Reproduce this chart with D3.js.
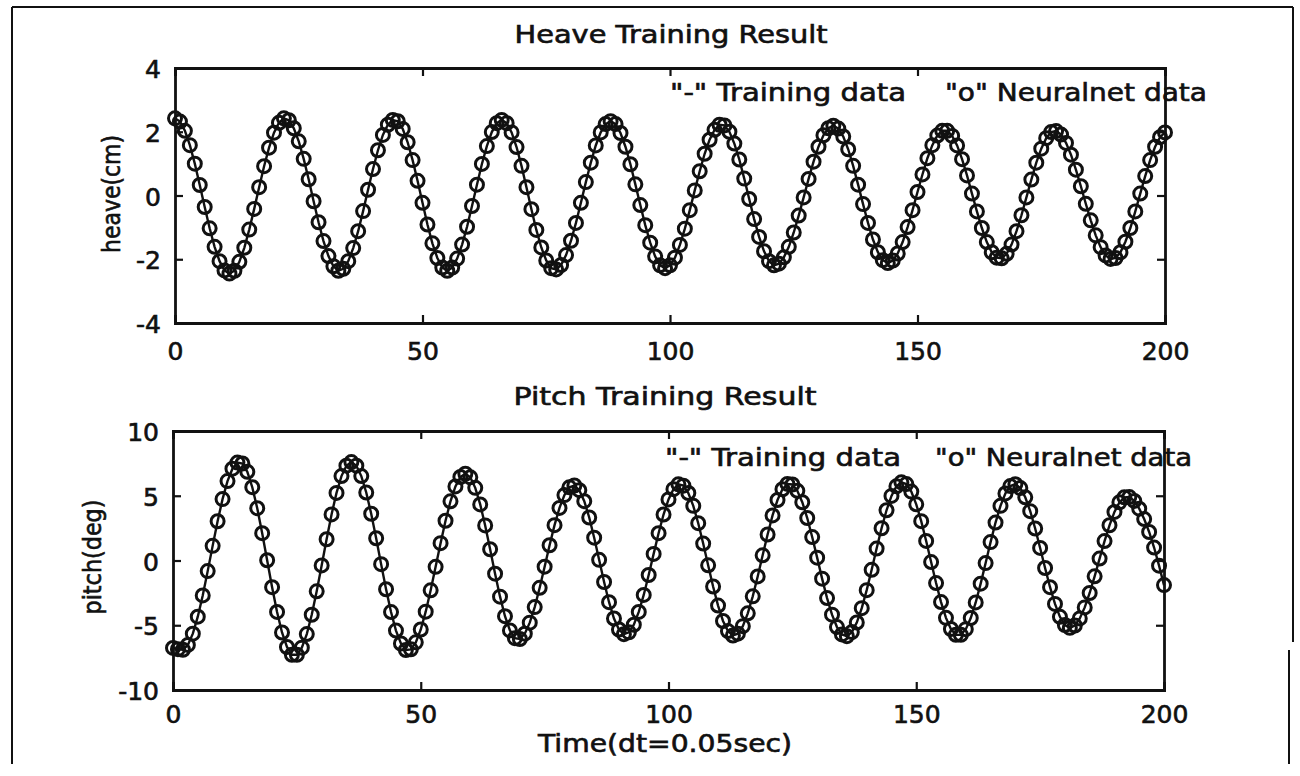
<!DOCTYPE html>
<html>
<head>
<meta charset="utf-8">
<script src="https://cdn.jsdelivr.net/npm/d3@7"></script>
<style>
  html, body { margin: 0; padding: 0; background: #ffffff; }
  svg { display: block; }
  text { font-family: "DejaVu Sans", "Liberation Sans", sans-serif; fill: #111; }
</style>
</head>
<body>
<svg id="chart" width="1300" height="776"></svg>
<script>
// Heave response (cm), one value per time step
const heaveValues = [
  2.42, 2.32, 2.03, 1.58, 1.00, 0.33, -0.36, -1.03, -1.61, -2.06,
  -2.35, -2.45, -2.36, -2.08, -1.64, -1.07, -0.42, 0.26, 0.92, 1.50,
  1.97, 2.28, 2.42, 2.36, 2.11, 1.70, 1.15, 0.51, -0.18, -0.84,
  -1.43, -1.90, -2.22, -2.36, -2.30, -2.06, -1.65, -1.12, -0.49, 0.18,
  0.83, 1.42, 1.90, 2.22, 2.37, 2.33, 2.09, 1.67, 1.11, 0.46,
  -0.23, -0.91, -1.50, -1.96, -2.26, -2.36, -2.26, -1.98, -1.54, -0.98,
  -0.33, 0.34, 0.99, 1.55, 1.99, 2.27, 2.37, 2.27, 1.98, 1.52,
  0.93, 0.26, -0.43, -1.08, -1.63, -2.04, -2.28, -2.32, -2.18, -1.87,
  -1.42, -0.86, -0.23, 0.42, 1.03, 1.57, 1.98, 2.24, 2.33, 2.24,
  1.96, 1.53, 0.98, 0.35, -0.30, -0.93, -1.48, -1.91, -2.19, -2.28,
  -2.19, -1.95, -1.55, -1.04, -0.46, 0.16, 0.76, 1.31, 1.75, 2.06,
  2.22, 2.20, 2.00, 1.63, 1.13, 0.53, -0.11, -0.74, -1.30, -1.75,
  -2.06, -2.19, -2.14, -1.94, -1.61, -1.16, -0.63, -0.06, 0.52, 1.06,
  1.53, 1.89, 2.11, 2.19, 2.10, 1.85, 1.45, 0.93, 0.34, -0.27,
  -0.86, -1.38, -1.78, -2.03, -2.12, -2.04, -1.82, -1.46, -0.99, -0.46,
  0.11, 0.66, 1.17, 1.58, 1.88, 2.03, 2.03, 1.87, 1.57, 1.14,
  0.63, 0.06, -0.50, -1.02, -1.46, -1.78, -1.95, -1.97, -1.83, -1.54,
  -1.12, -0.62, -0.06, 0.50, 1.03, 1.47, 1.80, 1.99, 2.02, 1.91,
  1.65, 1.28, 0.81, 0.29, -0.26, -0.78, -1.25, -1.62, -1.88, -1.99,
  -1.96, -1.78, -1.45, -1.02, -0.50, 0.06, 0.61, 1.11, 1.53, 1.83,
  1.98
];

// Pitch response (deg), one value per time step
const pitchValues = [
  -6.75, -6.85, -6.89, -6.52, -5.65, -4.34, -2.70, -0.82, 1.13, 3.03,
  4.74, 6.13, 7.09, 7.56, 7.49, 6.85, 5.66, 4.04, 2.11, 0.02,
  -2.06, -3.97, -5.56, -6.68, -7.28, -7.28, -6.73, -5.68, -4.19, -2.38,
  -0.38, 1.64, 3.56, 5.22, 6.52, 7.32, 7.60, 7.32, 6.52, 5.25,
  3.61, 1.72, -0.28, -2.22, -3.98, -5.41, -6.41, -6.91, -6.86, -6.32,
  -5.33, -3.95, -2.30, -0.49, 1.34, 3.07, 4.57, 5.72, 6.45, 6.70,
  6.42, 5.61, 4.33, 2.71, 0.87, -1.02, -2.79, -4.30, -5.40, -6.00,
  -6.06, -5.65, -4.80, -3.60, -2.11, -0.48, 1.18, 2.73, 4.06, 5.05,
  5.65, 5.79, 5.43, 4.58, 3.32, 1.76, 0.05, -1.66, -3.22, -4.48,
  -5.33, -5.69, -5.55, -4.96, -3.97, -2.66, -1.12, 0.51, 2.11, 3.55,
  4.72, 5.51, 5.88, 5.78, 5.21, 4.22, 2.88, 1.31, -0.37, -2.01,
  -3.48, -4.67, -5.45, -5.79, -5.65, -5.07, -4.08, -2.77, -1.23, 0.40,
  2.01, 3.48, 4.67, 5.50, 5.91, 5.87, 5.38, 4.50, 3.28, 1.81,
  0.22, -1.40, -2.90, -4.18, -5.14, -5.71, -5.84, -5.53, -4.79, -3.68,
  -2.29, -0.72, 0.92, 2.49, 3.88, 4.99, 5.73, 6.04, 5.90, 5.32,
  4.34, 3.04, 1.51, -0.12, -1.74, -3.21, -4.43, -5.29, -5.74, -5.74,
  -5.30, -4.44, -3.24, -1.79, -0.20, 1.42, 2.93, 4.22, 5.18, 5.75,
  5.89, 5.59, 4.88, 3.81, 2.47, 0.97, -0.58, -2.06, -3.35, -4.35,
  -4.98, -5.20, -5.02, -4.47, -3.62, -2.51, -1.22, 0.15, 1.50, 2.72,
  3.75, 4.49, 4.88, 4.90, 4.60, 4.00, 3.20, 2.20, 1.00, -0.40,
  -1.90
];

const xTicks = [0, 50, 100, 150, 200];
const heaveTicks = [-4, -2, 0, 2, 4];
const pitchTicks = [-10, -5, 0, 5, 10];

const svg = d3.select("#chart");
const plainNumber = d => String(d);   // ASCII hyphen for negatives
const textWeight = 0.65;              // outline that thickens the regular face

// page frame
const frame = svg.append("g").attr("stroke", "#111").attr("stroke-width", 2).attr("fill", "none");
frame.append("line").attr("x1", 12).attr("y1", 7).attr("x2", 1293).attr("y2", 7);
frame.append("line").attr("x1", 12).attr("y1", 7).attr("x2", 12).attr("y2", 764);
frame.append("line").attr("x1", 1293).attr("y1", 7).attr("x2", 1293).attr("y2", 642);
frame.append("line").attr("x1", 1289).attr("y1", 650).attr("x2", 1289).attr("y2", 764);

function addText(g, cfg) {
  const t = g.append("text")
    .attr("font-size", cfg.size || 25)
    .attr("stroke", "#111").attr("stroke-width", textWeight)
    .attr("text-anchor", cfg.anchor || "start")
    .text(cfg.text);
  if (cfg.transform) t.attr("transform", cfg.transform);
  else t.attr("x", cfg.x).attr("y", cfg.y);
  if (cfg.len) t.attr("textLength", cfg.len).attr("lengthAdjust", "spacingAndGlyphs");
  return t;
}

function panel(cfg) {
  const g = svg.append("g");
  const x = d3.scaleLinear().domain([0, 200]).range([cfg.left, cfg.right]);
  const y = d3.scaleLinear().domain(cfg.domain).range([cfg.bottom, cfg.top]);
  const pts = cfg.values.map((v, i) => [i, v]);
  const tickLen = 8;

  // training data line
  g.append("path")
    .datum(pts)
    .attr("fill", "none")
    .attr("stroke", "#111")
    .attr("stroke-width", 2.4)
    .attr("d", d3.line().x(d => x(d[0])).y(d => y(d[1])));

  // neural-net output markers
  g.append("g").selectAll("circle")
    .data(pts)
    .join("circle")
    .attr("cx", d => x(d[0]))
    .attr("cy", d => y(d[1]))
    .attr("r", 6.5)
    .attr("fill", "none")
    .attr("stroke", "#111")
    .attr("stroke-width", 3);

  // axes with inward ticks on every side
  const axB = g.append("g").attr("transform", `translate(0,${cfg.bottom})`)
    .call(d3.axisBottom(x).tickValues(xTicks).tickSize(-tickLen).tickPadding(cfg.xPad).tickFormat(plainNumber));
  const axT = g.append("g").attr("transform", `translate(0,${cfg.top})`)
    .call(d3.axisTop(x).tickValues(xTicks).tickSize(-tickLen).tickFormat(""));
  const axL = g.append("g").attr("transform", `translate(${cfg.left},0)`)
    .call(d3.axisLeft(y).tickValues(cfg.ticks).tickSize(-tickLen).tickPadding(14).tickFormat(plainNumber));
  const axR = g.append("g").attr("transform", `translate(${cfg.right},0)`)
    .call(d3.axisRight(y).tickValues(cfg.ticks).tickSize(-tickLen).tickFormat(""));

  [axB, axT, axL, axR].forEach(a => {
    a.select(".domain").attr("stroke", "#111").attr("stroke-width", 2.8);
    a.selectAll(".tick line").attr("stroke", "#111").attr("stroke-width", 2.2);
    a.selectAll("text").attr("font-size", 25).attr("fill", "#111")
      .attr("font-family", "DejaVu Sans, sans-serif")
      .attr("stroke", "#111").attr("stroke-width", textWeight);
  });
  axB.selectAll("text").attr("dy", "0.71em");
  axL.selectAll("text").attr("dy", "0.38em");

  addText(g, { x: cfg.titleX, y: cfg.titleY, anchor: "middle", len: cfg.titleLen, text: cfg.title });
  addText(g, { x: cfg.leg1X, y: cfg.legY, len: cfg.leg1Len, text: '"-" Training data' });
  addText(g, { x: cfg.leg2X, y: cfg.legY, len: cfg.leg2Len, text: '"o" Neuralnet data' });
  addText(g, {
    transform: `translate(${cfg.yLabelX},${cfg.yLabelY}) rotate(-90)`,
    anchor: "middle", size: 24, len: cfg.yLabelLen, text: cfg.yLabel
  });
  return { x, y };
}

panel({
  values: heaveValues, domain: [-4, 4], ticks: heaveTicks,
  left: 175, right: 1165, top: 68, bottom: 323, xPad: 19,
  title: "Heave Training Result", titleX: 671, titleY: 43, titleLen: 313,
  leg1X: 670, leg1Len: 236, leg2X: 945, leg2Len: 262, legY: 101,
  yLabel: "heave(cm)", yLabelX: 120, yLabelY: 194, yLabelLen: 118
});

panel({
  values: pitchValues, domain: [-10, 10], ticks: pitchTicks,
  left: 173, right: 1164, top: 431, bottom: 690, xPad: 15,
  title: "Pitch Training Result", titleX: 665, titleY: 405, titleLen: 303,
  leg1X: 665, leg1Len: 236, leg2X: 935, leg2Len: 257, legY: 466,
  yLabel: "pitch(deg)", yLabelX: 101, yLabelY: 557, yLabelLen: 115
});

// shared x-axis label
addText(svg, { x: 665, y: 752, anchor: "middle", len: 254, text: "Time(dt=0.05sec)" });
</script>
</body>
</html>
